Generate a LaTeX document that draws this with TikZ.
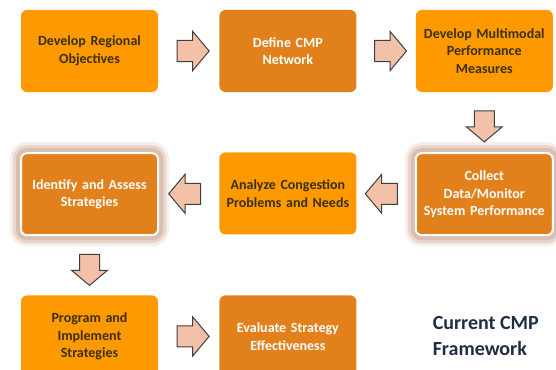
\documentclass[tikz,border=0pt]{standalone}
\usepackage{fontspec}
\setmainfont{Carlito}
\usepackage{xcolor}
\usepackage{tikz}
\usetikzlibrary{arrows.meta,positioning,calc,shapes.arrows}
\definecolor{cmpInk}{HTML}{3A3000}
\definecolor{cmpNavy}{HTML}{1F2D45}
\definecolor{cmpLight}{HTML}{FF9900}
\definecolor{cmpDark}{HTML}{E2811C}
\definecolor{cmpGlow}{HTML}{C9A08A}
\definecolor{cmpArrFill}{HTML}{F2C1A8}
\definecolor{cmpArrInk}{HTML}{3F3F3F}
\tikzset{
  % Light orange step box (dark text)
  lbox/.style={rectangle,rounded corners=6pt,
    minimum width=137pt,minimum height=82pt,text width=130pt,
    align=center,fill=cmpLight,
    font=\fontsize{14}{17.5}\selectfont\bfseries,text=cmpInk},
  % Dark orange step box (white text)
  dbox/.style={rectangle,rounded corners=6pt,
    minimum width=137pt,minimum height=82pt,text width=130pt,
    align=center,fill=cmpDark,
    font=\fontsize{14}{17.5}\selectfont\bfseries,text=white},
  % Highlighted box: white ring and soft glow
  hbox/.style={dbox,draw=white,line width=2pt,
    preaction={draw=cmpGlow,line width=22pt,opacity=0.18},
    preaction={draw=cmpGlow,line width=16pt,opacity=0.3},
    preaction={draw=cmpGlow,line width=10pt,opacity=0.45}},
  % Block arrow between steps
  barrow/.style={single arrow,draw=cmpArrInk,fill=cmpArrFill,
    line width=1pt,minimum height=32pt,inner xsep=0pt,inner ysep=10pt,
    single arrow head extend=9pt,single arrow tip angle=100},
  % Block arrow pointing down
  varrow/.style={barrow,shape border rotate=270,inner xsep=9.5pt,inner ysep=0pt,
    minimum height=31pt,single arrow head extend=8pt},
  % Caption text
  captxt/.style={font=\fontsize{20}{26}\selectfont\bfseries,text=cmpNavy,
    align=left,inner sep=0pt},
}
\begin{document}
\begin{tikzpicture}[x=1pt,y=-1pt,node distance=60pt and 60pt]
  \useasboundingbox (0,0) rectangle (556,369);
  \node[lbox] (obj) at (89.5,51) {Develop Regional\\Objectives};
  \node[dbox,right=61pt of obj] (net) {Define CMP\\Network};
  \node[lbox,right=59pt of net] (pm) {Develop Multimodal\\Performance\\Measures};

  \node[hbox,below=60pt of pm] (coll)
    {Collect\\Data/Monitor\\System Performance};
  \node[lbox,below=60pt of net] (prob)
    {Analyze Congestion\\Problems and Needs};
  \node[hbox,below=60pt of obj] (strat)
    {Identify and Assess\\Strategies};

  \node[lbox,below=59pt of strat] (impl)
    {Program and\\Implement\\Strategies};
  \node[dbox,right=61pt of impl] (eval)
    {Evaluate Strategy\\Effectiveness};
  \node[captxt,right=76pt of eval] (title) {Current CMP\\Framework};

  \node[barrow] (a1) at ($(obj.east)!.5!(net.west)$) {};
  \node[barrow] (a2) at ($(net.east)!.5!(pm.west)$) {};
  \node[varrow] (a3) at ($(pm.south)!.5!(coll.north)$) {};
  \node[barrow,shape border rotate=180] (a4) at ($(coll.west)!.5!(prob.east)$) {};
  \node[barrow,shape border rotate=180] (a5) at ($(prob.west)!.5!(strat.east)$) {};
  \node[varrow] (a6) at ($(strat.south)!.5!(impl.north)$) {};
  \node[barrow] (a7) at ($(impl.east)!.5!(eval.west)$) {};
\end{tikzpicture}
\end{document}
